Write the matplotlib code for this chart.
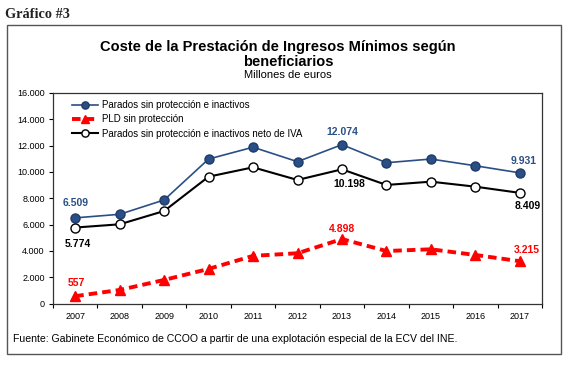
import matplotlib
matplotlib.use("Agg")
import matplotlib.pyplot as plt
from matplotlib.patches import Rectangle
from matplotlib.ticker import FuncFormatter

years = ["2007", "2008", "2009", "2010", "2011", "2012", "2013", "2014", "2015", "2016", "2017"]
parados = [6509, 6780, 7870, 10980, 11880, 10780, 12074, 10700, 10980, 10470, 9931]
pld = [557, 1030, 1790, 2630, 3620, 3820, 4898, 3990, 4120, 3690, 3215]
parados_neto = [5774, 6020, 7030, 9640, 10350, 9390, 10198, 9010, 9260, 8880, 8409]

labels_series = ["Parados sin protección e inactivos",
                 "PLD sin protección",
                 "Parados sin protección e inactivos neto de IVA"]

plt.rcParams['font.family'] = ['Liberation Sans', 'DejaVu Sans']

W, H = 584, 373
fig = plt.figure(figsize=(W / 100, H / 100), dpi=100)

def fx(px):
    return px / W

def fy(py):
    return 1 - py / H

# outer frame
fig.patches.append(Rectangle((fx(7), fy(354)), fx(561) - fx(7), fy(25) - fy(354),
                             transform=fig.transFigure, fill=False,
                             edgecolor="#555555", linewidth=1.0))

fig.text(fx(5), fy(14), "Gráfico #3", family="Liberation Serif", fontweight="bold",
         fontsize=10.3, ha="left", va="center", color="#222222")

fig.text(fx(278), fy(47), "Coste de la Prestación de Ingresos Mínimos según",
         fontsize=10.5, fontweight="bold", ha="center", va="center")
fig.text(fx(288), fy(62), "beneficiarios",
         fontsize=10.5, fontweight="bold", ha="center", va="center")
fig.text(fx(288), fy(75), "Millones de euros", fontsize=8, ha="center", va="center")

ax = fig.add_axes([fx(53), fy(303.5), fx(542) - fx(53), fy(93) - fy(303.5)])

x = list(range(len(years)))
blue = "#2A4F86"

ax.plot(x, parados, color=blue, linewidth=1.2, marker="o", markersize=6.5,
        markerfacecolor=blue, markeredgecolor="#1F3A66", label=labels_series[0], zorder=4)
ax.plot(x, pld, color="#FF0000", linewidth=2.8, linestyle=(0, (2.2, 1.3)), marker="^",
        markersize=7, markerfacecolor="#FF0000", markeredgecolor="#FF0000",
        label=labels_series[1], zorder=3)
ax.plot(x, parados_neto, color="black", linewidth=1.5, marker="o", markersize=6.5,
        markerfacecolor="white", markeredgecolor="black", label=labels_series[2], zorder=4)

ax.set_xlim(-0.5, len(years) - 0.5)
ax.set_ylim(0, 16000)
ax.set_yticks(range(0, 16001, 2000))
ax.yaxis.set_major_formatter(FuncFormatter(lambda v, p: f"{int(v):,}".replace(",", ".")))
ax.set_xticks([i - 0.5 for i in range(len(years) + 1)])
ax.set_xticklabels([])
ax.set_xticks(x, minor=True)
ax.set_xticklabels(years, minor=True)
ax.tick_params(axis="x", which="minor", length=0, labelsize=6.5, pad=6)
ax.tick_params(axis="x", which="major", length=3, width=0.8)
ax.tick_params(axis="y", length=3, width=0.8, labelsize=6.5, pad=3)
for s in ax.spines.values():
    s.set_linewidth(0.9)
    s.set_color("#333333")

def px2pt(dx, dy):
    return (dx * 0.72, dy * 0.72)

annots = [
    (0, parados[0], "6.509", blue, (0, 14.5)),
    (0, parados_neto[0], "5.774", "black", (3, -16)),
    (0, pld[0], "557", "#FF0000", (1, 13)),
    (6, parados[6], "12.074", blue, (0, 13)),
    (6, parados_neto[6], "10.198", "black", (7, -15)),
    (10, parados[10], "9.931", blue, (4, 11.5)),
    (10, parados_neto[10], "8.409", "black", (8, -13.5)),
    (6, pld[6], "4.898", "#FF0000", (0, 10.5)),
    (10, pld[10], "3.215", "#FF0000", (7, 11)),
]
for xi, yi, txt, col, off in annots:
    ax.annotate(txt, (xi, yi), xytext=px2pt(*off), textcoords="offset points",
                ha="center", va="center", fontsize=7.5, fontweight="bold", color=col)

leg = ax.legend(loc="upper left", bbox_to_anchor=(0.03, 0.985), frameon=False,
                fontsize=7, handlelength=2.7, handletextpad=0.4, labelspacing=0.45,
                borderaxespad=0.0, markerscale=0.8)

fig.text(fx(13), fy(339), "Fuente: Gabinete Económico de CCOO a partir de una explotación especial de la ECV del INE.",
         fontsize=7.6, ha="left", va="center")

fig.savefig("out.png", dpi=100)
